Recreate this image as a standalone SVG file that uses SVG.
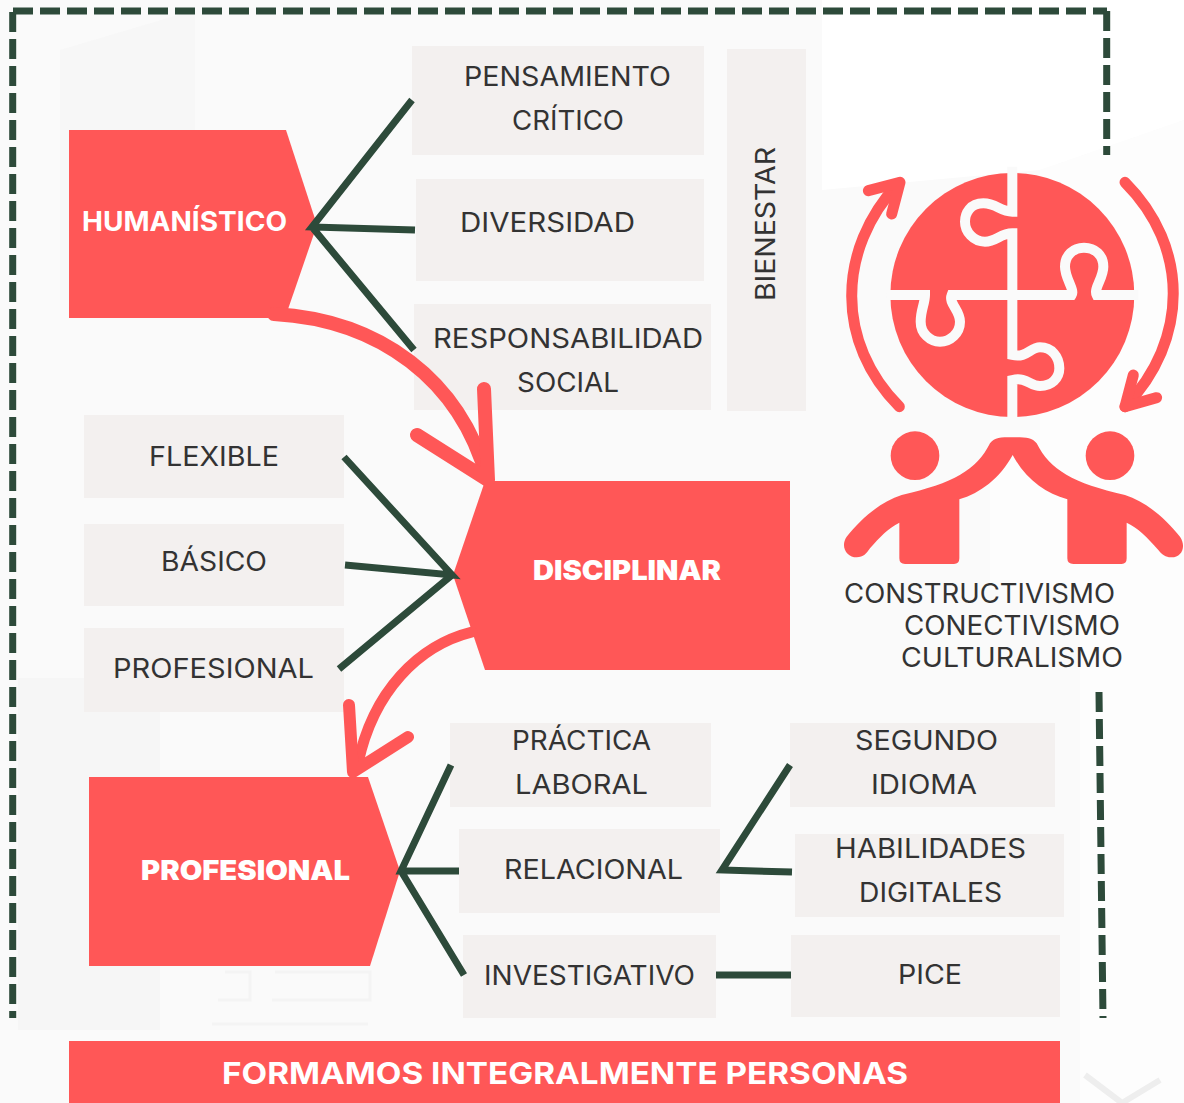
<svg xmlns="http://www.w3.org/2000/svg" width="1184" height="1103" viewBox="0 0 1184 1103">
<style>
.box{fill:#f3f0ef}
.node{fill:#ff5757}
.t{font-family:"Inter","Liberation Sans",sans-serif;font-size:27px;fill:#333;font-weight:400}
.b{font-family:"Inter","Liberation Sans",sans-serif;font-size:27px;fill:#fff;font-weight:900}
.dk{stroke:#2d4a3a;stroke-width:7;fill:none}
.rd{stroke:#ff5757;fill:none;stroke-linecap:round;stroke-linejoin:round}
.dash{stroke:#2d4a3a;stroke-width:7;fill:none;stroke-dasharray:20 7}
.wm{fill:none;stroke:#f4f4f4;stroke-width:3}
</style>
<g id="background">
<rect width="1184" height="1103" fill="#fafafa"/>
<path d="M1040 170 L1184 120 V1103 H1080 V590 H990 V430 H1040Z" fill="#fdfdfd"/>
<path d="M822 0 H1184 V120 L1040 170 L822 190Z" fill="#fff"/>
<path d="M60 50 L195 10 V300 H60Z" fill="#f7f7f7"/>
<path d="M18 1030 V678 H160 V1030Z" fill="#f6f6f6"/>
<path class="wm" d="M218 1000 H250 V972 H225 M272 1000 H370 V972 H275 M212 1024 H368"/>
<path d="M1085 1075 L1122 1103 L1160 1080" fill="none" stroke="#eeeeee" stroke-width="6"/>
</g>
<g id="border">
<path class="dash" d="M12.7 12 V1018"/>
<path class="dash" d="M13 11 H1107"/>
<path class="dash" d="M1106.7 11 V155"/>
<path class="dash" d="M1099 692 L1103 1018"/>
</g>
<g id="box-pensamiento"><rect class="box" x="412" y="46" width="292" height="109"/><text class="t" x="464" y="86" textLength="207" lengthAdjust="spacingAndGlyphs">PENSAMIENTO</text><text class="t" x="512" y="130" textLength="112" lengthAdjust="spacingAndGlyphs">CRÍTICO</text></g>
<g id="box-diversidad"><rect class="box" x="416" y="179" width="288" height="102"/><text class="t" x="460" y="232" textLength="175" lengthAdjust="spacingAndGlyphs">DIVERSIDAD</text></g>
<g id="box-responsabilidad"><rect class="box" x="414" y="304" width="297" height="106"/><text class="t" x="433" y="348" textLength="270" lengthAdjust="spacingAndGlyphs">RESPONSABILIDAD</text><text class="t" x="517" y="392" textLength="102" lengthAdjust="spacingAndGlyphs">SOCIAL</text></g>
<g id="box-bienestar"><rect class="box" x="727" y="49" width="79" height="362"/><text class="t" transform="translate(775 301) rotate(-90)" textLength="154" lengthAdjust="spacingAndGlyphs">BIENESTAR</text></g>
<g id="box-flexible"><rect class="box" x="84" y="415" width="260" height="83"/><text class="t" x="149" y="466" textLength="130" lengthAdjust="spacingAndGlyphs">FLEXIBLE</text></g>
<g id="box-basico"><rect class="box" x="84" y="524" width="260" height="82"/><text class="t" x="161" y="571" textLength="106" lengthAdjust="spacingAndGlyphs">BÁSICO</text></g>
<g id="box-profesional"><rect class="box" x="84" y="628" width="260" height="84"/><text class="t" x="113" y="678" textLength="201" lengthAdjust="spacingAndGlyphs">PROFESIONAL</text></g>
<g id="box-practica"><rect class="box" x="450" y="723" width="261" height="84"/><text class="t" x="512" y="750" textLength="139" lengthAdjust="spacingAndGlyphs">PRÁCTICA</text><text class="t" x="515" y="794" textLength="133" lengthAdjust="spacingAndGlyphs">LABORAL</text></g>
<g id="box-relacional"><rect class="box" x="459" y="829" width="261" height="84"/><text class="t" x="504" y="879" textLength="179" lengthAdjust="spacingAndGlyphs">RELACIONAL</text></g>
<g id="box-investigativo"><rect class="box" x="463" y="935" width="253" height="83"/><text class="t" x="484" y="985" textLength="211" lengthAdjust="spacingAndGlyphs">INVESTIGATIVO</text></g>
<g id="box-segundo"><rect class="box" x="790" y="723" width="265" height="84"/><text class="t" x="855" y="750" textLength="143" lengthAdjust="spacingAndGlyphs">SEGUNDO</text><text class="t" x="871" y="794" textLength="106" lengthAdjust="spacingAndGlyphs">IDIOMA</text></g>
<g id="box-habilidades"><rect class="box" x="795" y="834" width="269" height="83"/><text class="t" x="835" y="858" textLength="191" lengthAdjust="spacingAndGlyphs">HABILIDADES</text><text class="t" x="859" y="902" textLength="143" lengthAdjust="spacingAndGlyphs">DIGITALES</text></g>
<g id="box-pice"><rect class="box" x="791" y="935" width="269" height="82"/><text class="t" x="898" y="984" textLength="64" lengthAdjust="spacingAndGlyphs">PICE</text></g>
<g id="node-humanistico"><path class="node" d="M69 130 H286 L317 225 L285 318 H69Z"/><text class="b" style="font-weight:700" x="82" y="231" textLength="205" lengthAdjust="spacingAndGlyphs">HUMANÍSTICO</text></g>
<g id="node-disciplinar"><path class="node" d="M485 481 H790 V670 H485 L453 575Z"/><text class="b" x="533" y="580" textLength="188" lengthAdjust="spacingAndGlyphs">DISCIPLINAR</text></g>
<g id="node-profesional"><path class="node" d="M89 777 H368 L400 871 L370 966 H89Z"/><text class="b" x="141" y="880" textLength="209" lengthAdjust="spacingAndGlyphs">PROFESIONAL</text></g>
<g id="connectors">
<path class="dk" d="M412 100 L312 227 L415 230 M312 227 L414 350"/>
<path class="dk" d="M344 457 L452 575 L345 565 M452 575 L339 669"/>
<path class="dk" d="M451 765 L401 871 L459 871 M401 871 L464 975"/>
<path class="dk" d="M790 765 L722 870 L792 872"/>
<path class="dk" d="M716 975 H791"/>
<path class="rd" stroke-width="14" d="M274 314 C 380 320 460 380 487 478"/>
<path class="rd" stroke-width="14" d="M417 435 L488 480 L484 389"/>
<path class="rd" stroke-width="11" d="M472 632 C 420 645 372 690 357 768"/>
<path class="rd" stroke-width="12" d="M349 705 L353 772 L408 737"/>
</g>
<g id="icon" transform="translate(830 150) scale(.33333)">
<circle class="node" cx="547" cy="435" r="366"/>
<g fill="none" stroke="#fafafa" stroke-width="30">
<path d="M547 50 V185 C510 185 500 160 460 160 C420 160 405 190 405 215 C405 245 430 275 465 275 C500 275 510 250 547 250 V615 C590 625 600 592 630 592 C665 592 688 620 688 655 C688 685 665 708 630 708 C600 708 590 680 547 690 V820"/>
<path d="M170 435 H285 C285 460 272 480 272 515 C272 550 300 575 330 575 C360 575 390 550 390 515 C390 480 355 460 365 435 H725 C735 420 705 385 705 350 C705 315 730 293 762 293 C795 293 820 315 820 350 C820 385 790 415 800 435 H925"/>
</g>
<g class="rd" stroke-width="33">
<path d="M208 770 C18 580 18 300 205 100"/>
<path d="M115 122 L210 97 L185 192"/>
<path d="M885 97 C1078 290 1078 570 885 770"/>
<path d="M980 743 L885 770 L910 675"/>
</g>
<circle class="node" cx="255" cy="917" r="73"/>
<circle class="node" cx="840" cy="917" r="73"/>
<path class="node" d="M480 880 C440 960 370 1000 215 1035 C150 1055 90 1110 50 1160 C30 1190 50 1222 80 1222 C100 1222 110 1210 120 1195 C150 1160 175 1135 208 1118 L208 1225 Q208 1242 225 1242 L372 1242 Q388 1242 388 1225 L388 1048 C450 1030 510 985 548 915 C585 985 645 1030 712 1048 L712 1225 Q712 1242 730 1242 L875 1242 Q890 1242 890 1225 L890 1118 C925 1135 950 1160 985 1200 C1000 1220 1015 1222 1025 1222 C1055 1222 1070 1190 1050 1160 C1010 1110 950 1055 885 1035 C730 1000 660 960 620 880 C605 862 590 862 548 862 C510 862 495 862 480 880Z"/>
</g>
<g id="icon-labels">
<text class="t" x="844" y="603" textLength="271" lengthAdjust="spacingAndGlyphs">CONSTRUCTIVISMO</text>
<text class="t" x="904" y="635" textLength="216" lengthAdjust="spacingAndGlyphs">CONECTIVISMO</text>
<text class="t" x="901" y="667" textLength="222" lengthAdjust="spacingAndGlyphs">CULTURALISMO</text>
</g>
<g id="banner"><rect class="node" x="69" y="1041" width="991" height="62"/><text class="b" style="font-size:30px;font-weight:700" x="222" y="1084" textLength="686" lengthAdjust="spacingAndGlyphs">FORMAMOS INTEGRALMENTE PERSONAS</text></g>
</svg>
